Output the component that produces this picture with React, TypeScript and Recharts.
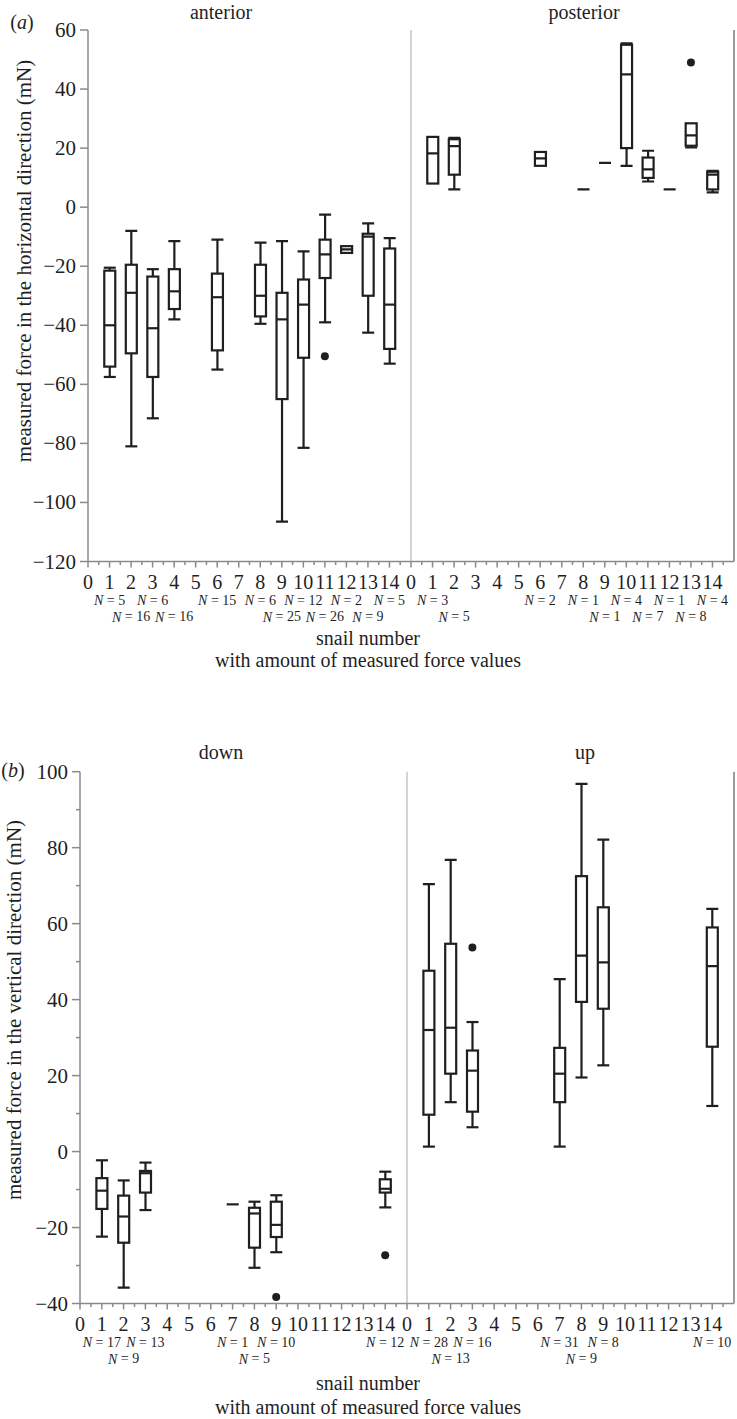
import React from 'react';
import { ComposedChart, Bar, Scatter, XAxis, YAxis, ReferenceLine } from 'recharts';

// (a) horizontal force — anterior snails
const antSnails = [1, 2, 3, 4, 6, 8, 9, 10, 11, 12, 13, 14];
const antMin = [-57.5, -81, -71.5, -38, -55, -39.5, -106.5, -81.5, -39, -15.5, -42.5, -53];
const antQ1 = [-54, -49.5, -57.5, -34.5, -48.5, -37, -65, -51, -24, -15.5, -30, -48];
const antMed = [-40, -29, -41, -28.5, -30.5, -30, -38, -33, -16, -14.3, -10, -33];
const antQ3 = [-21.5, -19.5, -23.5, -21, -22.5, -19.5, -29, -24.5, -11, -13.2, -9, -14];
const antMax = [-20.5, -8, -21, -11.5, -11, -12, -11.5, -15, -2.5, -13.2, -5.5, -10.5];
const antN = [5, 16, 6, 16, 15, 6, 25, 12, 26, 2, 9, 5];
const antOutSnail = [11];
const antOutVal = [-50.5];

// (a) posterior snails
const postSnails = [1, 2, 6, 8, 9, 10, 11, 12, 13, 14];
const postMin = [8, 6, 14, 6, 15, 14, 8.7, 6, 20.2, 5];
const postQ1 = [8, 11, 14, 6, 15, 20, 9.9, 6, 20.8, 6];
const postMed = [18.2, 20.7, 16.5, 6, 15, 45, 12.8, 6, 24.3, 11];
const postQ3 = [23.8, 23, 18.7, 6, 15, 55, 16.8, 6, 28.4, 12];
const postMax = [23.8, 23.5, 18.7, 6, 15, 55.5, 19.1, 6, 28.4, 12.3];
const postN = [3, 5, 2, 1, 1, 4, 7, 1, 8, 4];
const postOutSnail = [13];
const postOutVal = [49];

// (b) vertical force — down
const downSnails = [1, 2, 3, 7, 8, 9, 14];
const downMin = [-22.4, -35.8, -15.4, -13.9, -30.6, -26.5, -14.7];
const downQ1 = [-15.1, -24, -10.8, -13.9, -25.3, -22.5, -10.8];
const downMed = [-10.3, -17.1, -5.7, -13.9, -16.3, -19.3, -9.8];
const downQ3 = [-7, -11.6, -5.1, -13.9, -14.8, -13.2, -7.3];
const downMax = [-2.3, -7.6, -2.9, -13.9, -13.2, -11.5, -5.3];
const downN = [17, 9, 13, 1, 5, 10, 12];
const downOutSnail = [9, 14];
const downOutVal = [-38.3, -27.3];

// (b) up
const upSnails = [1, 2, 3, 7, 8, 9, 14];
const upMin = [1.3, 13, 6.4, 1.3, 19.5, 22.7, 12];
const upQ1 = [9.7, 20.5, 10.5, 13, 39.4, 37.6, 27.6];
const upMed = [32, 32.6, 21.3, 20.5, 51.6, 49.8, 48.8];
const upQ3 = [47.6, 54.7, 26.6, 27.3, 72.5, 64.3, 59];
const upMax = [70.4, 76.8, 34.1, 45.4, 96.8, 82.1, 63.9];
const upN = [28, 13, 16, 31, 9, 8, 10];
const upOutSnail = [3];
const upOutVal = [53.7];

const snailTicks = [0, 1, 2, 3, 4, 5, 6, 7, 8, 9, 10, 11, 12, 13, 14];
const hTicks = [-120, -100, -80, -60, -40, -20, 0, 20, 40, 60];
const vTicks = [-40, -30, -20, -10, 0, 10, 20, 30, 40, 50, 60, 70, 80, 90, 100];

const serif = '"Liberation Serif", "Times New Roman", serif';
const INK = '#1f1f1f';
const AXIS = '#8a8a8a';

const boxes = (snails: number[], off: number, mn: number[], q1: number[], md: number[], q3: number[], mx: number[]) =>
  snails.map((s, i) => ({ x: s + off, range: [mn[i], mx[i]], min: mn[i], q1: q1[i], med: md[i], q3: q3[i], max: mx[i] }));

const outliers = (snails: number[], off: number, vals: number[]) => snails.map((s, i) => ({ x: s + off, out: vals[i] }));

// N labels alternate between two rows when neighbours are adjacent
const counts = (groups: [number[], number[], number][]) => {
  const res: Record<number, { n: number; row: number }> = {};
  groups.forEach(([snails, ns, off]) => {
    let prev = -99;
    let prevRow = 1;
    snails.forEach((s, i) => {
      const row = s === prev + 1 && prevRow === 0 ? 1 : 0;
      res[s + off] = { n: ns[i], row };
      prev = s;
      prevRow = row;
    });
  });
  return res;
};

const xTicks: number[] = [];
[0, 15].forEach(off => snailTicks.forEach(t => xTicks.push(t + off, t + off + 0.5)));

const hData = [...boxes(antSnails, 0, antMin, antQ1, antMed, antQ3, antMax), ...boxes(postSnails, 15, postMin, postQ1, postMed, postQ3, postMax)];
const hOut = [...outliers(antOutSnail, 0, antOutVal), ...outliers(postOutSnail, 15, postOutVal)];
const hCounts = counts([[antSnails, antN, 0], [postSnails, postN, 15]]);

const vData = [...boxes(downSnails, 0, downMin, downQ1, downMed, downQ3, downMax), ...boxes(upSnails, 15, upMin, upQ1, upMed, upQ3, upMax)];
const vOut = [...outliers(downOutSnail, 0, downOutVal), ...outliers(upOutSnail, 15, upOutVal)];
const vCounts = counts([[downSnails, downN, 0], [upSnails, upN, 15]]);

const BoxShape = (props: any) => {
  const { x, y, width, height, payload } = props;
  const cx = x + width / 2;
  const top = Math.min(y, y + height);
  const span = Math.abs(height);
  const { min, q1, med, q3, max } = payload;
  const py = (v: number) => (max === min ? top : top + ((max - v) / (max - min)) * span);
  const bw = 5.5;
  const cw = 6;
  const st = { stroke: INK, strokeWidth: 2.2, fill: 'none' };
  if (max === min) {
    return <line x1={cx - cw} x2={cx + cw} y1={top} y2={top} {...st} />;
  }
  return (
    <g>
      {max > q3 && <line x1={cx} x2={cx} y1={py(max)} y2={py(q3)} {...st} />}
      {max > q3 && <line x1={cx - cw} x2={cx + cw} y1={py(max)} y2={py(max)} {...st} />}
      {min < q1 && <line x1={cx} x2={cx} y1={py(q1)} y2={py(min)} {...st} />}
      {min < q1 && <line x1={cx - cw} x2={cx + cw} y1={py(min)} y2={py(min)} {...st} />}
      <rect x={cx - bw} y={py(q3)} width={bw * 2} height={py(q1) - py(q3)} {...st} />
      <line x1={cx - bw} x2={cx + bw} y1={py(med)} y2={py(med)} {...st} />
    </g>
  );
};

const OutDot = (props: any) => <circle cx={props.cx} cy={props.cy} r={4} fill={INK} />;

const XTick = (props: any) => {
  const { x, y, payload, cnt } = props;
  const v = payload.value as number;
  const major = Number.isInteger(v);
  const c = cnt[v];
  return (
    <g>
      <line x1={x} x2={x} y1={y} y2={y + (major ? 6 : 3.5)} stroke={AXIS} strokeWidth={1.5} />
      {major && (
        <text x={x} y={y + 20} textAnchor="middle" dominantBaseline="central" fontSize={20} fontFamily={serif} fill={INK}>
          {v % 15}
        </text>
      )}
      {c && (
        <text x={x} y={y + (c.row ? 55 : 38.5)} textAnchor="middle" dominantBaseline="central" fontSize={14} fontFamily={serif} fill={INK}>
          <tspan fontStyle="italic">N</tspan> = {c.n}
        </text>
      )}
    </g>
  );
};

const YTick = (props: any) => {
  const { x, y, payload, step } = props;
  const v = payload.value as number;
  const major = v % step === 0;
  return (
    <g>
      <line x1={x} x2={x - (major ? 8 : 4)} y1={y} y2={y} stroke={AXIS} strokeWidth={1.5} />
      {major && (
        <text x={x - 12} y={y} textAnchor="end" dominantBaseline="central" fontSize={21} fontFamily={serif} fill={INK}>
          {v < 0 ? `\u2212${-v}` : v}
        </text>
      )}
    </g>
  );
};

const Txt = ({ x, y, children, rotate = false, size = 20 }: any) => (
  <div
    style={{
      position: 'absolute',
      left: x,
      top: y,
      transform: `translate(-50%, -50%)${rotate ? ' rotate(-90deg)' : ''}`,
      fontSize: size,
      fontFamily: serif,
      color: INK,
      whiteSpace: 'nowrap',
      lineHeight: 1,
    }}
  >
    {children}
  </div>
);

const Panel = ({ data, out, cnt, domain, ticks, step, height, margin }: any) => (
  <ComposedChart width={737} height={height} data={data} margin={margin}>
    <XAxis
      type="number"
      dataKey="x"
      domain={[0, 30]}
      ticks={xTicks}
      interval={0}
      height={60}
      tickSize={0}
      tickMargin={0}
      stroke={AXIS}
      strokeWidth={1.5}
      tick={(p: any) => <XTick {...p} cnt={cnt} />}
    />
    <YAxis
      type="number"
      domain={domain}
      ticks={ticks}
      interval={0}
      width={60}
      tickSize={0}
      tickMargin={0}
      stroke={AXIS}
      strokeWidth={1.5}
      allowDataOverflow
      tick={(p: any) => <YTick {...p} step={step} />}
    />
    <ReferenceLine x={15} stroke="#c6c6c6" strokeWidth={1.5} />
    <ReferenceLine x={30} stroke="#7c7c7c" strokeWidth={1.5} />
    <Bar dataKey="range" barSize={12} shape={<BoxShape />} isAnimationActive={false} />
    <Scatter data={out} dataKey="out" shape={<OutDot />} isAnimationActive={false} />
  </ComposedChart>
);

export default function App() {
  return (
    <div style={{ position: 'absolute', left: 0, top: 0, width: 737, height: 1419, background: '#fff', overflow: 'hidden' }}>
      <div style={{ position: 'absolute', left: 0, top: 0 }}>
        <Panel data={hData} out={hOut} cnt={hCounts} domain={[-120, 60]} ticks={hTicks} step={20} height={640}
          margin={{ top: 30, right: 3, bottom: 18.5, left: 28 }} />
      </div>
      <div style={{ position: 'absolute', left: 0, top: 700 }}>
        <Panel data={vData} out={vOut} cnt={vCounts} domain={[-40, 100]} ticks={vTicks} step={20} height={680}
          margin={{ top: 71.7, right: 3, bottom: 16.5, left: 20 }} />
      </div>

      <Txt x={22} y={22}>(<i>a</i>)</Txt>
      <Txt x={221} y={12}>anterior</Txt>
      <Txt x={584} y={12}>posterior</Txt>
      <Txt x={24} y={261} rotate size={21}>measured force in the horizontal direction (mN)</Txt>
      <Txt x={368} y={638}>snail number</Txt>
      <Txt x={368} y={660}>with amount of measured force values</Txt>

      <Txt x={13} y={770}>(<i>b</i>)</Txt>
      <Txt x={221} y={752}>down</Txt>
      <Txt x={585} y={752}>up</Txt>
      <Txt x={14} y={1010} rotate size={21}>measured force in the vertical direction (mN)</Txt>
      <Txt x={368} y={1383}>snail number</Txt>
      <Txt x={368} y={1407}>with amount of measured force values</Txt>
    </div>
  );
}
